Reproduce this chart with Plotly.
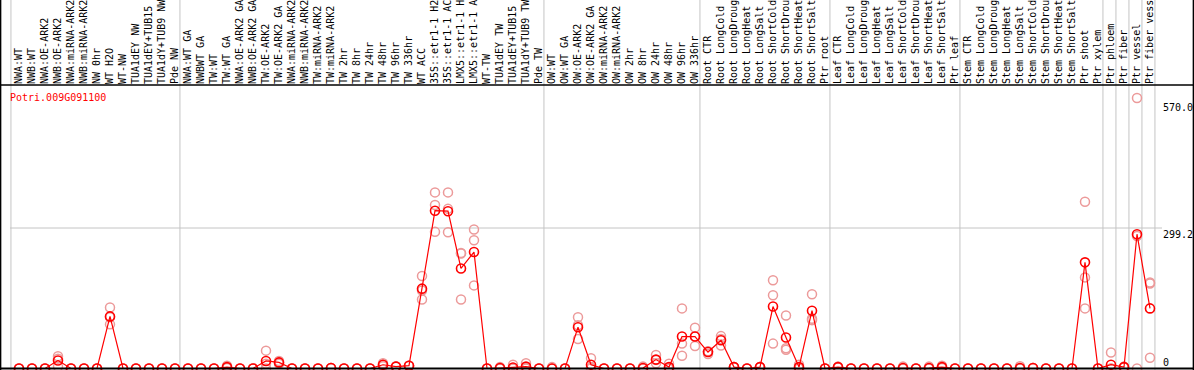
import plotly.graph_objects as go

gene = "Potri.009G091100"

labels = [
    "NWA:WT", "NWB:WT", "NWA:OE-ARK2", "NWB:OE-ARK2", "NWA:miRNA-ARK2", "NWB:miRNA-ARK2",
    "NW 0hr", "WT H2O", "WT-NW", "TUA1dEY NW", "TUA1dEY+TUB15", "TUA1dY+TUB9 NW", "Pde NW",
    "NWA:WT GA", "NWBWT GA", "TW:WT", "TW:WT GA", "NWA:OE-ARK2 GA", "NWB:OE-ARK2 GA",
    "TW:OE-ARK2", "TW:OE-ARK2 GA", "NWA:miRNA-ARK2", "NWB:miRNA-ARK2", "TW:miRNA-ARK2",
    "TW:miRNA-ARK2", "TW 2hr", "TW 8hr", "TW 24hr", "TW 48hr", "TW 96hr", "TW 336hr", "WT ACC",
    "35S::etr1-1 H2", "35S::etr1-1 AC", "LMX5::etr1-1 H", "LMX5::etr1-1 A", "WT-TW",
    "TUA1dEY TW", "TUA1dEY+TUB15", "TUA1dY+TUB9 TW", "Pde TW",
    "OW:WT", "OW:WT GA", "OW:OE-ARK2", "OW:OE-ARK2 GA", "OW:miRNA-ARK2", "OW:miRNA-ARK2",
    "OW 2hr", "OW 8hr", "OW 24hr", "OW 48hr", "OW 96hr", "OW 336hr",
    "Root CTR", "Root LongCold", "Root LongDroug", "Root LongHeat", "Root LongSalt",
    "Root ShortCold", "Root ShortDrou", "Root ShortHeat", "Root ShortSalt", "Ptr root",
    "Leaf CTR", "Leaf LongCold", "Leaf LongDroug", "Leaf LongHeat", "Leaf LongSalt",
    "Leaf ShortCold", "Leaf ShortDrou", "Leaf ShortHeat", "Leaf ShortSalt", "Ptr leaf",
    "Stem CTR", "Stem LongCold", "Stem LongDroug", "Stem LongHeat", "Stem LongSalt",
    "Stem ShortCold", "Stem ShortDrou", "Stem ShortHeat", "Stem ShortSalt", "Ptr shoot",
    "Ptr xylem", "Ptr phloem", "Ptr fiber", "Ptr vessel", "Ptr fiber vess",
]

group_sizes = [13, 28, 12, 10, 10, 11, 1, 1, 1, 1]

means = [
    0, 0, 0, 17, 0, 0, 0, 111, 0, 0, 0, 0, 0,
    0, 0, 0, 3, 0, 0, 16, 13, 0, 0, 0, 1, 0, 0, 0, 8, 4, 6,
    170, 336, 335, 213, 248, 0, 1, 2, 4, 0,
    0, 0, 88, 8, 0, 0, 0, 1, 19, 3, 68, 68,
    35, 60, 3, 0, 3, 132, 66, 3, 123, 0,
    3, 0, 0, 0, 0, 1, 0, 1, 3, 0,
    0, 0, 0, 0, 1, 1, 0, 0, 0, 226, 0,
    8, 3, 286, 128,
]

rep1 = list(means)
rep2 = list(means)
rep3 = list(means)
rep_values = {
    3: (26, 21, 4), 7: (130, 109, 94), 16: (6, 2, 1), 19: (38, 10, 0), 20: (13, 10, 16),
    28: (11, 8, 5), 31: (197, 166, 147), 32: (375, 348, 291), 33: (375, 340, 290),
    34: (246, 245, 147), 35: (296, 273, 177), 37: (3, 0, 0), 38: (8, 0, 0), 39: (11, 1, 0),
    41: (3, 0, 0), 43: (109, 92, 63), 44: (22, 2, 0), 48: (4, 0, 0), 49: (29, 18, 11),
    50: (10, 0, 0), 51: (128, 53, 27), 52: (87, 68, 48), 53: (36, 37, 31), 54: (69, 63, 49),
    58: (188, 156, 53), 59: (113, 43, 40), 60: (8, 1, 0), 61: (158, 106, 103),
    63: (4, 3, 2), 68: (4, 0, 0), 70: (4, 0, 0), 71: (6, 2, 1), 77: (5, 0, 0),
    82: (355, 194, 128), 84: (34, 0, 0), 85: (4, 3, 2), 86: (576, 282, 0), 87: (183, 181, 23),
}
for k, (a, b, c) in rep_values.items():
    rep1[k], rep2[k], rep3[k] = a, b, c

y_ticks = [570.0, 299.2, 0]
y_tick_text = ["570.0", "299.2", "0"]

W, H = 1194, 370
TOP = 85
first_px, step_px = 19, 13
x_range = [-first_px / step_px, (W - first_px) / step_px]
px_per_unit = 140.5 / 299.2
y_range = [-(H - 368.5) / px_per_unit, (368.5 - TOP) / px_per_unit]

x = list(range(len(labels)))
mono = "DejaVu Sans Mono"

fig = go.Figure()
for reps in (rep1, rep2, rep3):
    fig.add_trace(go.Scatter(
        x=x, y=reps, mode="markers",
        marker=dict(symbol="circle-open", size=9, color="#ec9a9a", line=dict(width=1.5)),
        hoverinfo="skip", showlegend=False, cliponaxis=False,
    ))
fig.add_trace(go.Scatter(
    x=x, y=means, mode="lines+markers",
    line=dict(color="#ff0000", width=1.2),
    marker=dict(symbol="circle-open", size=9, color="#ff0000", line=dict(width=1.6)),
    showlegend=False, cliponaxis=False,
))

shapes = []
top_paper = 1 + TOP / (H - TOP)
c = 0
bounds = [0]
for g in group_sizes:
    c += g
    bounds.append(c)
for b in bounds:
    xb = b - 0.62
    shapes.append(dict(type="line", xref="x", yref="paper", x0=xb, x1=xb, y0=0, y1=top_paper,
                       line=dict(color="#c4c4c4", width=1), layer="below"))
shapes.append(dict(type="line", xref="paper", yref="y", x0=10 / W, x1=1162 / W,
                   y0=y_ticks[1], y1=y_ticks[1], line=dict(color="#c4c4c4", width=1), layer="below"))
shapes.append(dict(type="line", xref="paper", yref="paper", x0=0, x1=1, y0=1, y1=1,
                   line=dict(color="black", width=1.5)))
shapes.append(dict(type="line", xref="paper", yref="y", x0=0, x1=1, y0=0, y1=0,
                   line=dict(color="black", width=2)))
shapes.append(dict(type="line", xref="paper", yref="paper", x0=0.0005, x1=0.0005, y0=0, y1=top_paper,
                   line=dict(color="black", width=1.5)))
shapes.append(dict(type="line", xref="paper", yref="paper", x0=0.9995, x1=0.9995, y0=0, y1=top_paper,
                   line=dict(color="black", width=1.5)))

annotations = [
    dict(text=gene, xref="paper", yref="paper", x=8 / W, y=(H - 97) / (H - TOP),
         xanchor="left", yanchor="middle", showarrow=False,
         font=dict(family=mono, size=10, color="#ff0000")),
]
for v, t in zip(y_ticks, y_tick_text):
    annotations.append(dict(
        text=t, xref="paper", yref="y", x=1162 / W, y=v, xanchor="left",
        yanchor="bottom" if v == 0 else "top", showarrow=False, borderpad=0,
        font=dict(family=mono, size=10, color="black")))

fig.update_layout(
    width=W, height=H,
    margin=dict(l=0, r=0, t=TOP, b=0, pad=0),
    paper_bgcolor="white", plot_bgcolor="white",
    shapes=shapes, annotations=annotations,
    xaxis=dict(range=x_range, side="top", tickmode="array", tickvals=x, ticktext=labels,
               tickangle=-90, tickfont=dict(family=mono, size=10, color="black"),
               showgrid=False, zeroline=False, showline=False, ticks="", ticklen=0),
    yaxis=dict(range=y_range, showgrid=False, zeroline=False, showticklabels=False,
               showline=False, ticks=""),
    hovermode=False,
)

fig.write_html(
    "out.html",
    config={"displayModeBar": False},
    post_script="document.body.style.margin='0';document.body.style.overflow='hidden';",
)
